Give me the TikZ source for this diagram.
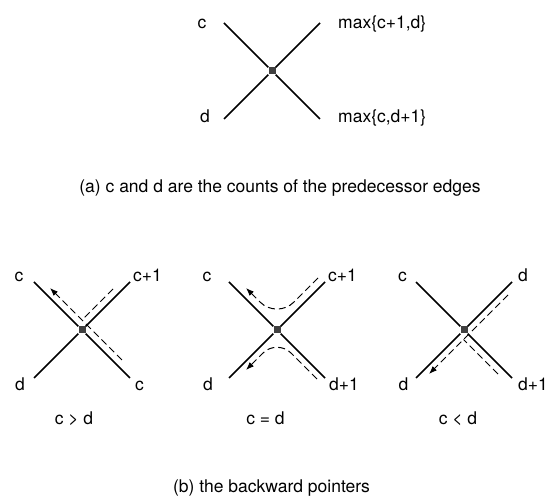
\documentclass[tikz,border=0pt]{standalone}
\usepackage{fontspec}
\setmainfont{TeX Gyre Heros}
\usetikzlibrary{arrows.meta,positioning,calc}

\tikzset{
  arm/.style={line width=1.6pt},
  junction/.style={rectangle, fill=black!75, minimum size=7pt, inner sep=0pt},
  ptr/.style={line width=1pt, dash pattern=on 7pt off 4pt},
  ptrtip/.style={ptr, -{Latex[length=8pt,width=6pt]}},
  lbl/.style={font=\fontsize{17.5}{21}\selectfont, inner sep=0pt, anchor=base},
  lblw/.style={lbl, anchor=base west},
}

\begin{document}
\begin{tikzpicture}[x=1pt,y=1pt]
  \useasboundingbox (0,0) rectangle (547,496);

  % (a) the merge node
  \begin{scope}[shift={(272,425)}]
    \node[junction] (t) at (0,0) {};
    \coordinate (t-ul) at (-48,48);
    \coordinate (t-ur) at (48,48);
    \coordinate (t-ll) at (-48,-48);
    \coordinate (t-lr) at (48,-48);
    \draw[arm] (t-ul) -- (t) -- (t-lr);
    \draw[arm] (t-ll) -- (t) -- (t-ur);
    \node[lbl] (t-c) at (-70,42) {c};
    \node[lbl] (t-d) at (-67,-52) {d};
    \node[lblw] (t-max1) at (66,42) {max\{c+1,d\}};
    \node[lblw] (t-max2) at (66,-52) {max\{c,d+1\}};
  \end{scope}
  \node[lbl] (cap-a) at (280,303) {(a) c and d are the counts of the predecessor edges};

  % (b) c > d
  \begin{scope}[shift={(82,166)}]
    \node[junction] (g) at (0,0) {};
    \coordinate (g-ul) at (-48,48);
    \coordinate (g-ur) at (48,48);
    \coordinate (g-ll) at (-48,-48);
    \coordinate (g-lr) at (48,-48);
    \draw[arm] (g-ul) -- (g) -- (g-lr);
    \draw[arm] (g-ll) -- (g) -- (g-ur);
    \coordinate (g-from) at (40,-30);
    \coordinate (g-to) at (-32,42);
    \coordinate (g-up) at (31,41);
    \coordinate (g-join) at (0,10);
    \draw[ptrtip] (g-from) -- (g-to);
    \draw[ptr] (g-up) -- (g-join);
    \node[lbl] (g-c1) at (-63,48) {c};
    \node[lblw] (g-c2) at (51,48) {c+1};
    \node[lbl] (g-d) at (-62,-61) {d};
    \node[lblw] (g-c3) at (53,-61) {c};
    \node[lbl] (g-cap) at (-8,-94.5) {c > d};
  \end{scope}

  % (b) c = d
  \begin{scope}[shift={(277,166)}]
    \node[junction] (e) at (0,0) {};
    \coordinate (e-ul) at (-48,48);
    \coordinate (e-ur) at (48,48);
    \coordinate (e-ll) at (-48,-48);
    \coordinate (e-lr) at (48,-48);
    \draw[arm] (e-ul) -- (e) -- (e-lr);
    \draw[arm] (e-ll) -- (e) -- (e-ur);
    \coordinate (e-up1) at (41,52);
    \coordinate (e-up2) at (0,11);
    \coordinate (e-up3) at (-31,42);
    \coordinate (e-dn1) at (40,-49);
    \coordinate (e-dn2) at (0,-9);
    \coordinate (e-dn3) at (-31,-40);
    \draw[ptrtip, rounded corners=24pt] (e-up1) -- (e-up2) -- (e-up3);
    \draw[ptrtip, rounded corners=20pt] (e-dn1) -- (e-dn2) -- (e-dn3);
    \node[lbl] (e-c) at (-70,48) {c};
    \node[lblw] (e-c1) at (51,48) {c+1};
    \node[lbl] (e-d) at (-69,-61) {d};
    \node[lblw] (e-d1) at (52,-61) {d+1};
    \node[lbl] (e-cap) at (-11.5,-94.5) {c = d};
  \end{scope}

  % (b) c < d
  \begin{scope}[shift={(464,166)}]
    \node[junction] (l) at (0,0) {};
    \coordinate (l-ul) at (-48,48);
    \coordinate (l-ur) at (48,48);
    \coordinate (l-ll) at (-48,-48);
    \coordinate (l-lr) at (48,-48);
    \draw[arm] (l-ul) -- (l) -- (l-lr);
    \draw[arm] (l-ll) -- (l) -- (l-ur);
    \coordinate (l-from) at (44,35);
    \coordinate (l-to) at (-35,-44);
    \coordinate (l-dn) at (34,-44);
    \coordinate (l-join) at (-0.5,-9.5);
    \draw[ptrtip] (l-from) -- (l-to);
    \draw[ptr] (l-dn) -- (l-join);
    \node[lbl] (l-c) at (-61.5,48) {c};
    \node[lblw] (l-d1) at (54,48) {d};
    \node[lbl] (l-d2) at (-60.5,-61) {d};
    \node[lblw] (l-d3) at (54,-61) {d+1};
    \node[lbl] (l-cap) at (-6,-94.5) {c < d};
  \end{scope}
  \node[lbl] (cap-b) at (271.5,3) {(b) the backward pointers};
\end{tikzpicture}
\end{document}
